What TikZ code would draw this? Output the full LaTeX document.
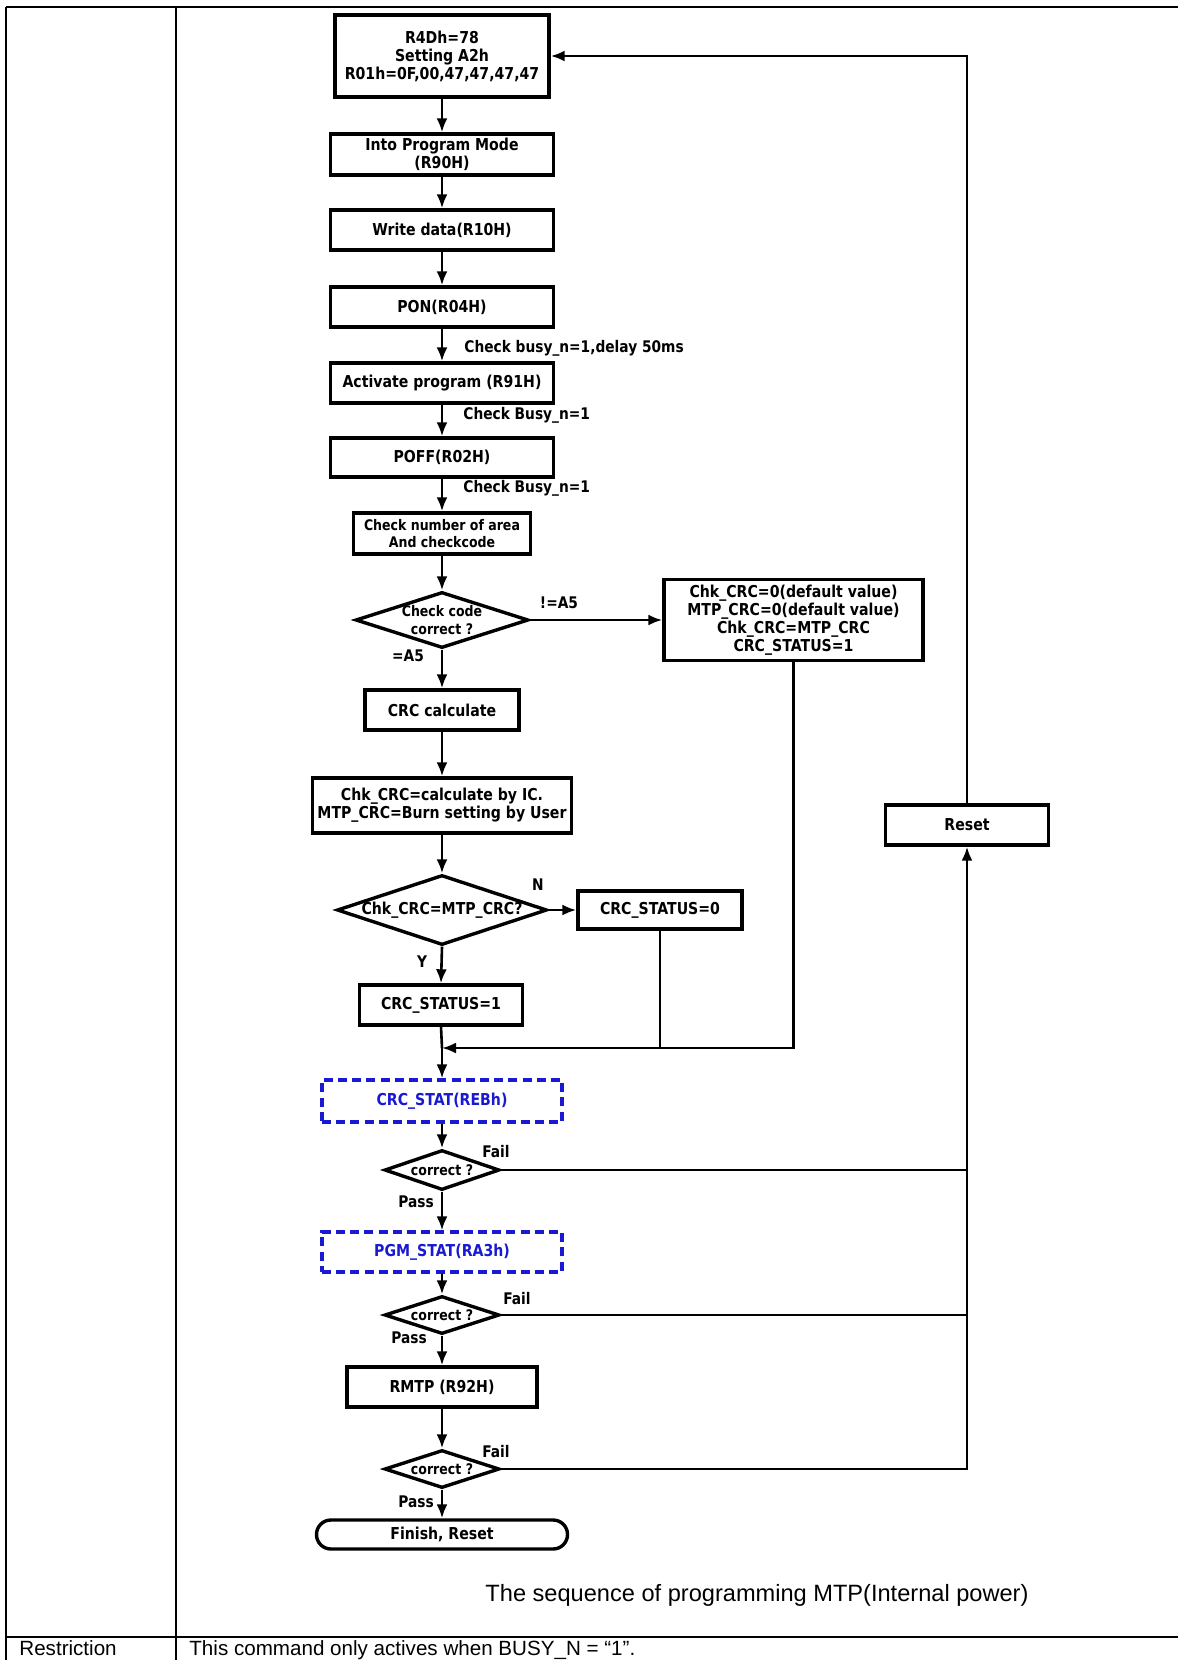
\documentclass[tikz,border=0pt]{standalone}
\usepackage{fontspec}
\setmainfont{Liberation Sans}
\newfontfamily\boxfont{DejaVu Sans}[FakeStretch=0.86]
\usetikzlibrary{arrows.meta,shapes.geometric}
\definecolor{statblue}{RGB}{25,25,210}
\tikzset{
  pbox/.style={draw, line width=1.7pt, align=center, inner sep=1pt,
    font=\boxfont\bfseries\fontsize{8.2}{9}\selectfont},
  smallbox/.style={pbox, font=\boxfont\bfseries\fontsize{7.3}{8.8}\selectfont},
  dbox/.style={draw=statblue, line width=1.6pt, dash pattern=on 4.5pt off 2.6pt,
    text=statblue, align=center, inner sep=1pt,
    font=\boxfont\bfseries\fontsize{8.2}{9}\selectfont},
  dec/.style={draw, diamond, line width=1.7pt, inner sep=0pt},
  dtext/.style={font=\boxfont\bfseries\fontsize{7.3}{8.8}\selectfont, align=center, inner sep=0pt},
  dtextbig/.style={font=\boxfont\bfseries\fontsize{8.2}{9}\selectfont, inner sep=0pt},
  lbl/.style={font=\boxfont\bfseries\fontsize{8}{9}\selectfont, inner sep=0pt},
  arr/.style={line width=1.3pt, -{Latex[length=7pt,width=5.5pt]}},
  conn/.style={line width=1.3pt},
  tbl/.style={line width=0.7pt},
  txt/.style={font=\fontsize{11.8}{14}\selectfont, inner sep=0pt},
  rowtxt/.style={font=\fontsize{10.3}{12}\selectfont, inner sep=0pt}
}
\begin{document}
\begin{tikzpicture}[x=0.5pt,y=-0.5pt]
\useasboundingbox (0,0) rectangle (1178,1660);
% table
\draw[tbl] (6,7) -- (1178,7);
\draw[tbl] (6,7) -- (6,1660);
\draw[tbl] (176,7) -- (176,1660);
\draw[tbl] (6,1637) -- (1178,1637);

% main column
\node[pbox, minimum width=107pt, minimum height=41pt] (b1) at (442,56) {R4Dh=78\\Setting A2h\\R01h=0F,00,47,47,47,47};
\node[pbox, minimum width=111.5pt, minimum height=20.5pt] (b2) at (442,154.5) {Into Program Mode\\(R90H)};
\node[pbox, minimum width=111.5pt, minimum height=20pt] (b3) at (442,230) {Write data(R10H)};
\node[pbox, minimum width=111.5pt, minimum height=20pt] (b4) at (442,307) {PON(R04H)};
\node[pbox, minimum width=111.5pt, minimum height=20pt] (b5) at (442,383) {Activate program (R91H)};
\node[pbox, minimum width=111.5pt, minimum height=19.5pt] (b6) at (442,457.5) {POFF(R02H)};
\node[smallbox, minimum width=88.5pt, minimum height=20.5pt] (b7) at (442,533.5) {Check number of area\\And checkcode};
\node[dec, minimum width=86.5pt, minimum height=28pt, label={[dtext]center:Check code\\correct ?}] (d1) at (442,620) {};
\node[pbox, minimum width=129.5pt, minimum height=40.5pt] (crc0) at (793.5,620) {Chk\_CRC=0(default value)\\MTP\_CRC=0(default value)\\Chk\_CRC=MTP\_CRC\\CRC\_STATUS=1};
\node[pbox, minimum width=77pt, minimum height=20pt] (b8) at (442,710) {CRC calculate};
\node[pbox, minimum width=129.5pt, minimum height=27.5pt] (b9) at (442,805.5) {Chk\_CRC=calculate by IC.\\MTP\_CRC=Burn setting by User};
\node[pbox, minimum width=81.5pt, minimum height=20pt] (reset) at (967,825) {Reset};
\node[dec, minimum width=105pt, minimum height=35pt, label={[dtextbig]center:Chk\_CRC=MTP\_CRC?}] (d2) at (442,910) {};
\node[pbox, minimum width=82pt, minimum height=19pt] (st0) at (660,910) {CRC\_STATUS=0};
\node[pbox, minimum width=81.5pt, minimum height=20pt] (st1) at (441,1005) {CRC\_STATUS=1};
\coordinate (j) at (442,1048);
\node[dbox, minimum width=120pt, minimum height=21pt] (cs) at (442,1101) {CRC\_STAT(REBh)};
\node[dec, minimum width=57.5pt, minimum height=20pt, label={[dtext]center:correct ?}] (c1) at (442,1170) {};
\node[dbox, minimum width=120pt, minimum height=20pt] (pg) at (442,1252) {PGM\_STAT(RA3h)};
\node[dec, minimum width=57.5pt, minimum height=19pt, label={[dtext]center:correct ?}] (c2) at (442,1315) {};
\node[pbox, minimum width=95pt, minimum height=20pt] (rm) at (442,1387) {RMTP (R92H)};
\node[dec, minimum width=57.5pt, minimum height=19pt, label={[dtext]center:correct ?}] (c3) at (442,1469) {};
\node[pbox, rounded corners=7.2pt, minimum width=125.5pt, minimum height=14.5pt] (fin) at (442,1534.5) {Finish, Reset};

% connectors
\draw[arr] (b1.south) -- (b2.north);
\draw[arr] (b2.south) -- (b3.north);
\draw[arr] (b3.south) -- (b4.north);
\draw[arr] (b4.south) -- (b5.north);
\draw[arr] (b5.south) -- (b6.north);
\draw[arr] (b6.south) -- (b7.north);
\draw[arr] (b7.south) -- (d1.north);
\draw[arr] (d1.east) -- (crc0.west);
\draw[arr] (d1.south) -- (b8.north);
\draw[arr] (b8.south) -- (b9.north);
\draw[arr] (b9.south) -- (d2.north);
\draw[arr] (d2.east) -- (st0.west);
\draw[arr] (d2.south) -- (st1.north);
\draw[conn] (st1.south) -- (j);
\draw[conn] (st0.south) -- (st0.south |- j);
\draw[arr] (crc0.south) |- (j);
\draw[arr] (j) -- (cs.north);
\draw[arr] (cs.south) -- (c1.north);
\draw[arr] (c1.south) -- (pg.north);
\draw[arr] (pg.south) -- (c2.north);
\draw[arr] (c2.south) -- (rm.north);
\draw[arr] (rm.south) -- (c3.north);
\draw[arr] (c3.south) -- (fin.north);
\draw[conn] (c1.east) -- (c1.east -| reset.south);
\draw[conn] (c2.east) -- (c2.east -| reset.south);
\draw[arr] (c3.east) -| (reset.south);
\draw[arr] (reset.north) |- (b1.east);

% labels
\node[lbl, anchor=west] (l1) at (464,348) {Check busy\_n=1,delay 50ms};
\node[lbl, anchor=west] (l2) at (463,415) {Check Busy\_n=1};
\node[lbl, anchor=west] (l3) at (463,488) {Check Busy\_n=1};
\node[lbl] (l4) at (559,603) {!=A5};
\node[lbl] (l5) at (408,656) {=A5};
\node[lbl] (l6) at (538,885) {N};
\node[lbl] (l7) at (422,962) {Y};
\node[lbl] (l8) at (496,1152) {Fail};
\node[lbl] (l9) at (416,1202) {Pass};
\node[lbl] (l10) at (517,1299) {Fail};
\node[lbl] (l11) at (409,1338) {Pass};
\node[lbl] (l12) at (496,1452) {Fail};
\node[lbl] (l13) at (416,1502) {Pass};

% captions
\node[txt] (cap) at (757,1595) {The sequence of programming MTP(Internal power)};
\node[rowtxt, anchor=base west] (rs) at (19,1655.5) {Restriction};
\node[rowtxt, anchor=base west] (rt) at (189,1655.5) {This command only actives when BUSY\_N = “1”.};
\end{tikzpicture}
\end{document}
